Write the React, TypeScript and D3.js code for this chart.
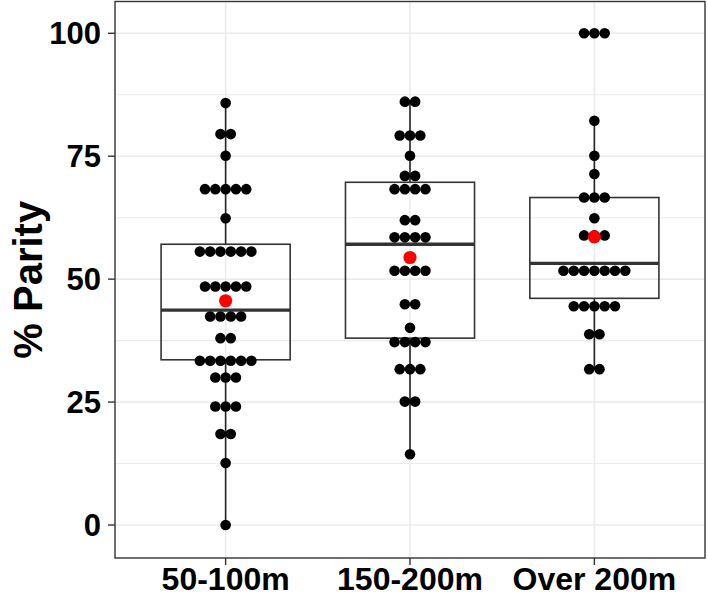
import React from "react";
import * as d3 from "d3";

const categories = ["50-100m", "150-200m", "Over 200m"];

const values1 = [85.8, 79.5, 79.5, 75.1, 68.3, 68.3, 68.3, 68.3, 68.3, 62.4,
  55.6, 55.6, 55.6, 55.6, 55.6, 55.6, 48.5, 48.5, 48.5, 48.5, 48.5,
  42.4, 42.4, 42.4, 42.4, 38.0, 38.0, 33.4, 33.4, 33.4, 33.4, 33.4, 33.4,
  30.0, 30.0, 30.0, 24.1, 24.1, 24.1, 18.5, 18.5, 12.6, 0];
const values2 = [86.1, 86.1, 79.2, 79.2, 79.2, 75.1, 71.0, 71.0, 68.3, 68.3, 68.3, 68.3,
  62.0, 62.0, 58.5, 58.5, 58.5, 58.5, 51.7, 51.7, 51.7, 51.7, 44.9, 44.9, 40.1,
  37.2, 37.2, 37.2, 37.2, 31.7, 31.7, 31.7, 25.1, 25.1, 14.4];
const values3 = [100, 100, 100, 82.2, 75.1, 71.4, 66.6, 66.6, 66.6, 62.4,
  58.9, 58.9, 58.9, 51.7, 51.7, 51.7, 51.7, 51.7, 51.7, 51.7,
  44.5, 44.5, 44.5, 44.5, 44.5, 38.8, 38.8, 31.7, 31.7];
const groupValues = [values1, values2, values3];

const q1s = [33.6, 38.0, 46.1];
const medians = [43.7, 57.1, 53.2];
const q3s = [57.1, 69.7, 66.6];
const whiskerLow = [0, 14.4, 31.7];
const whiskerHigh = [85.8, 86.1, 82.2];
const means = [45.6, 54.4, 58.6];

const yTicks = [0, 25, 50, 75, 100];
const yMinor = [12.5, 37.5, 62.5, 87.5];

export default function App() {
  const W = 708, H = 596;
  const pl = 115, pr = 705, pt = 1.5, pb = 558;
  const x = d3.scalePoint<string>().domain(categories).range([pl, pr]).padding(0.6);
  const y = d3.scaleLinear().domain([0, 100]).range([525, 33.3]);
  const step = x.step();
  const boxW = step * 0.7;
  const dotR = 5.3;
  const dotSp = 10.3;
  const font = "'Liberation Sans', Arial, Helvetica, sans-serif";
  const grid = "#ebebeb";

  const dots: { cx: number; cy: number; key: string }[] = [];
  groupValues.forEach((vals, gi) => {
    const groups = d3.groups(vals, (v) => v);
    groups.forEach(([v, arr]) => {
      const n = arr.length;
      arr.forEach((_, k) => {
        dots.push({
          cx: (x(categories[gi]) as number) + (k - (n - 1) / 2) * dotSp,
          cy: y(v),
          key: `${gi}-${v}-${k}`,
        });
      });
    });
  });

  return (
    <svg width={W} height={H} style={{ position: "absolute", left: 0, top: 0, background: "#fff" }}>
      <rect x={0} y={0} width={W} height={H} fill="#fff" />
      {/* grid */}
      {yMinor.map((t) => (
        <line key={"mi" + t} x1={pl} x2={pr} y1={y(t)} y2={y(t)} stroke={grid} strokeWidth={1.1} />
      ))}
      {yTicks.map((t) => (
        <line key={"ma" + t} x1={pl} x2={pr} y1={y(t)} y2={y(t)} stroke={grid} strokeWidth={1.6} />
      ))}
      {categories.map((c) => (
        <line key={"vg" + c} x1={x(c)} x2={x(c)} y1={pt} y2={pb} stroke={grid} strokeWidth={1.6} />
      ))}
      {/* whiskers */}
      {categories.map((c, i) => (
        <g key={"w" + c} stroke="#222" strokeWidth={1.6}>
          <line x1={x(c)} x2={x(c)} y1={y(q3s[i])} y2={y(whiskerHigh[i])} />
          <line x1={x(c)} x2={x(c)} y1={y(q1s[i])} y2={y(whiskerLow[i])} />
        </g>
      ))}
      {/* boxes */}
      {categories.map((c, i) => (
        <g key={"b" + c}>
          <rect
            x={(x(c) as number) - boxW / 2}
            y={y(q3s[i])}
            width={boxW}
            height={y(q1s[i]) - y(q3s[i])}
            fill="none"
            stroke="#333"
            strokeWidth={1.6}
          />
          <line
            x1={(x(c) as number) - boxW / 2}
            x2={(x(c) as number) + boxW / 2}
            y1={y(medians[i])}
            y2={y(medians[i])}
            stroke="#333"
            strokeWidth={3.4}
          />
        </g>
      ))}
      {/* dots */}
      {dots.map((d) => (
        <circle key={d.key} cx={d.cx} cy={d.cy} r={dotR} fill="#000" />
      ))}
      {/* means */}
      {categories.map((c, i) => (
        <circle key={"m" + c} cx={x(c)} cy={y(means[i])} r={6.6} fill="#ff0000" />
      ))}
      {/* panel border */}
      <rect x={pl} y={pt} width={pr - pl} height={pb - pt} fill="none" stroke="#333" strokeWidth={1.4} />
      {/* y axis */}
      {yTicks.map((t) => (
        <g key={"yt" + t}>
          <line x1={pl - 7} x2={pl} y1={y(t)} y2={y(t)} stroke="#333" strokeWidth={1.4} />
          <text
            x={pl - 14}
            y={y(t)}
            dy="0.36em"
            textAnchor="end"
            fontFamily={font}
            fontWeight="bold"
            fontSize={31}
            fill="#000"
          >
            {t}
          </text>
        </g>
      ))}
      {/* x axis */}
      {categories.map((c) => (
        <g key={"xt" + c}>
          <line x1={x(c)} x2={x(c)} y1={pb} y2={pb + 7} stroke="#333" strokeWidth={1.4} />
          <text
            x={x(c)}
            y={590}
            textAnchor="middle"
            fontFamily={font}
            fontWeight="bold"
            fontSize={32}
            fill="#000"
          >
            {c}
          </text>
        </g>
      ))}
      <text
        transform={`translate(42, ${(pt + pb) / 2}) rotate(-90)`}
        textAnchor="middle"
        fontFamily={font}
        fontWeight="bold"
        fontSize={40}
        fill="#000"
      >
        % Parity
      </text>
    </svg>
  );
}
